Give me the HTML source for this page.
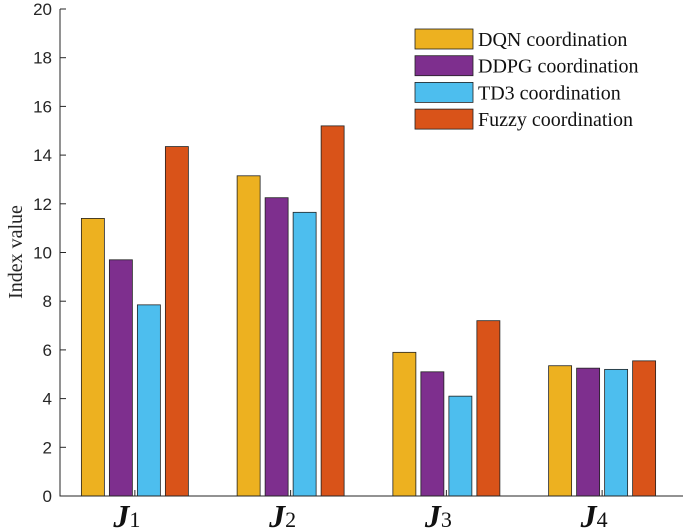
<!DOCTYPE html>
<html><head><meta charset="utf-8"><style>
body{margin:0;background:#fff;}
svg{display:block;font-family:"Liberation Serif",serif;}
</style></head><body>
<svg id="chart" width="685" height="531"></svg>
<script>
const categories=["J1","J2","J3","J4"];
const seriesNames=["DQN coordination","DDPG coordination","TD3 coordination","Fuzzy coordination"];
const dqn=[11.4,13.15,5.9,5.35];
const ddpg=[9.7,12.25,5.1,5.25];
const td3=[7.85,11.65,4.1,5.2];
const fuzzy=[14.35,15.2,7.2,5.55];
const yTicks=[0,2,4,6,8,10,12,14,16,18,20];
const colors=["#EDB120","#7E2F8E","#4DBEEE","#D95319"];
const series=[dqn,ddpg,td3,fuzzy];
const svg=document.getElementById('chart');
const NS="http://www.w3.org/2000/svg";
const x0=60,x1=683,y0=496,y1=9;
function yS(v){return y0-(v/20)*(y0-y1);}
const gw=(x1-x0)/categories.length;
function xC(i){return x0+gw*(i+0.5)-3;}
function mk(t,a,txt){const e=document.createElementNS(NS,t);for(const k in a)e.setAttribute(k,a[k]);if(txt!==undefined)e.textContent=txt;svg.appendChild(e);return e;}
const bw=23,step=28;
series.forEach((s,si)=>{s.forEach((v,ci)=>{
 const cx=xC(ci)+(si-1.5)*step;
 const r=mk('rect',{x:cx-bw/2,y:yS(v),width:bw,height:y0-yS(v),fill:colors[si],stroke:'#222','stroke-width':0.8});
 
 
});});
const ax=mk('path',{d:`M${x0},${y1}V${y0}H${x1}`,stroke:'#262626',fill:'none','stroke-width':1});


yTicks.forEach(t=>{
 const y=yS(t);
 mk('line',{x1:x0,x2:x0+6,y1:y,y2:y,stroke:'#262626'});
 const l=mk('text',{x:x0-8,y:y+6,'text-anchor':'end','font-size':17,fill:'#262626','font-family':'Liberation Sans, sans-serif'},t);
 
 
});
categories.forEach((c,i)=>{
 const x=xC(i);
 mk('line',{x1:x,x2:x,y1:y0,y2:y0-6,stroke:'#262626'});
 const t=mk('text',{x:x-8,y:527,'text-anchor':'middle','font-size':32,'font-weight':'bold','font-style':'italic',fill:'#111'});
 
 
 t.innerHTML='J<tspan font-size="22" font-weight="normal" font-style="normal" dy="0">'+c.slice(1)+'</tspan>';
});
const yt=mk('text',{x:22,y:252,'text-anchor':'middle','font-size':20,fill:'#262626',transform:'rotate(-90 22 252)'},'Index value');


seriesNames.forEach((n,i)=>{
 const y=29+i*26.7;
 const sw=mk('rect',{x:415,y:y,width:58,height:20,fill:colors[i],stroke:'#222','stroke-width':0.8});
 
 
 const t=mk('text',{x:478,y:y+17,'font-size':20,fill:'#111'},n);
 
 
});
</script>
</body></html>
